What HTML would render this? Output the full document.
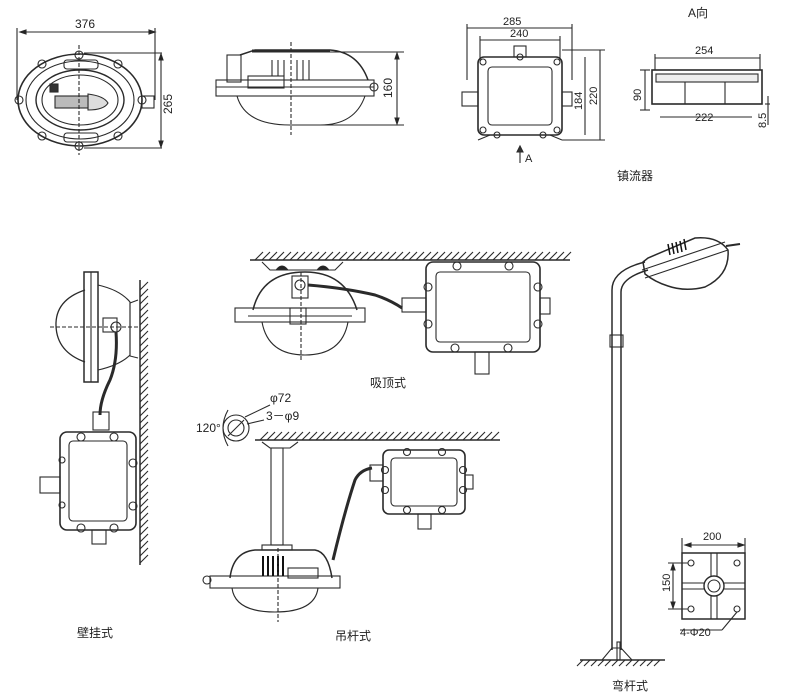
<!DOCTYPE html>
<html><head><meta charset="utf-8"><style>
html,body{margin:0;padding:0;background:#fff;}
svg{display:block;}
text{font-family:"Liberation Sans","Noto Sans CJK SC",sans-serif;fill:#222;font-size:11px;}
.c{font-size:12px;}
</style></head><body>
<svg width="800" height="698" viewBox="0 0 800 698" xmlns="http://www.w3.org/2000/svg" fill="none" stroke="#2a2a2a" stroke-width="1.1">
<!-- Top view 1: oval fixture -->
<g>
<line x1="20" y1="32" x2="155" y2="32"/><text x="75" y="28" stroke="none" class="c">376</text>
<path d="M20 32 l6 -2 v4 Z M155 32 l-6 -2 v4 Z" fill="#222"/>
<line x1="17" y1="28" x2="17" y2="100"/><line x1="155" y1="28" x2="155" y2="100"/>
<ellipse cx="80" cy="100" rx="62" ry="46" stroke-width="1.6"/>
<ellipse cx="80" cy="100" rx="54" ry="39"/>
<ellipse cx="80" cy="100" rx="44" ry="30" stroke-width="1.4"/>
<ellipse cx="80" cy="100" rx="38" ry="25"/>
<circle cx="42" cy="64" r="4"/><circle cx="118" cy="64" r="4"/><circle cx="42" cy="136" r="4"/><circle cx="118" cy="136" r="4"/>
<circle cx="79" cy="55" r="4"/><circle cx="79" cy="146" r="4"/><circle cx="19" cy="100" r="4"/><circle cx="142" cy="100" r="4"/>
<rect x="64" y="60" width="34" height="9" rx="3"/><rect x="64" y="133" width="34" height="9" rx="3"/>
<path d="M88 94 Q104 96 108 103 Q104 110 88 110 Z" fill="#ddd"/>
<rect x="55" y="96" width="33" height="12" fill="#bbb"/>
<rect x="50" y="84" width="8" height="8" fill="#333"/>
<rect x="142" y="96" width="12" height="12"/>
<line x1="79" y1="45" x2="79" y2="155" stroke-dasharray="4 2"/>
<line x1="84" y1="53" x2="162" y2="53"/><line x1="84" y1="148" x2="162" y2="148"/>
<line x1="161" y1="56" x2="161" y2="146"/>
<path d="M161 54 l-2 6 h4 Z M161 147 l-2 -6 h4 Z" fill="#222"/>
<text stroke="none" class="c" transform="translate(172,114) rotate(-90)">265</text>
</g>
<!-- Top view 2: side -->
<g>
<rect x="227" y="55" width="14" height="27"/>
<path d="M240 55 L255 50 L330 50 Q358 52 368 80" stroke-width="1.5"/>
<line x1="252" y1="51" x2="330" y2="51" stroke-width="3"/>
<rect x="216" y="80" width="158" height="16"/>
<line x1="216" y1="87" x2="374" y2="87"/>
<path d="M237 96 Q245 125 290 125 L320 125 Q355 125 365 96"/>
<rect x="248" y="76" width="36" height="12"/>
<g><line x1="272" y1="60" x2="272" y2="76"/><line x1="278" y1="60" x2="278" y2="76"/><line x1="284" y1="60" x2="284" y2="76"/><line x1="297" y1="60" x2="297" y2="80"/><line x1="303" y1="60" x2="303" y2="80"/><line x1="309" y1="60" x2="309" y2="80"/></g>
<line x1="291" y1="42" x2="291" y2="135" stroke-dasharray="4 2"/>
<circle cx="374" cy="87" r="4"/>
<line x1="330" y1="52" x2="404" y2="52"/><line x1="320" y1="125" x2="404" y2="125"/>
<line x1="397" y1="55" x2="397" y2="123"/>
<path d="M397 53 l-2 6 h4 Z M397 124 l-2 -6 h4 Z" fill="#222"/>
<text stroke="none" class="c" transform="translate(392,98) rotate(-90)">160</text>
</g>
<!-- Ballast front -->
<g>
<line x1="467" y1="28" x2="572" y2="28"/><text x="503" y="25" stroke="none">285</text>
<line x1="480" y1="40" x2="560" y2="40"/><text x="510" y="37" stroke="none">240</text>
<line x1="467" y1="24" x2="467" y2="80"/><line x1="572" y1="24" x2="572" y2="80"/>
<line x1="480" y1="36" x2="480" y2="60"/><line x1="560" y1="36" x2="560" y2="60"/>
<rect x="478" y="57" width="84" height="78" rx="6" stroke-width="1.6"/>
<rect x="488" y="67" width="64" height="58" rx="4"/>
<circle cx="483" cy="62" r="3"/><circle cx="557" cy="62" r="3"/><circle cx="483" cy="130" r="3"/><circle cx="557" cy="130" r="3"/>
<circle cx="497" cy="135" r="3"/><circle cx="543" cy="135" r="3"/><circle cx="520" cy="57" r="3"/>
<rect x="462" y="92" width="16" height="14"/><rect x="562" y="92" width="10" height="14"/>
<rect x="514" y="46" width="12" height="11"/>
<path d="M478 140 L490 135 L550 135 L562 140"/>
<line x1="562" y1="50" x2="605" y2="50"/><line x1="562" y1="140" x2="605" y2="140"/>
<line x1="600" y1="50" x2="600" y2="140"/><line x1="585" y1="57" x2="585" y2="135"/>
<text stroke="none" transform="translate(597,105) rotate(-90)">220</text>
<text stroke="none" transform="translate(582,110) rotate(-90)">184</text>
<line x1="520" y1="163" x2="520" y2="148"/><path d="M517 152 L520 146 L523 152 Z" fill="#333"/>
<text x="525" y="162" stroke="none">A</text>
</g>
<!-- A view -->
<g>
<text x="688" y="17" class="c" stroke="none">A向</text>
<line x1="655" y1="58" x2="760" y2="58"/><text x="695" y="54" stroke="none">254</text>
<line x1="655" y1="54" x2="655" y2="70"/><line x1="760" y1="54" x2="760" y2="70"/>
<rect x="652" y="70" width="110" height="34" stroke-width="1.6"/>
<rect x="656" y="74" width="102" height="8" fill="#eee"/>
<line x1="685" y1="82" x2="685" y2="104"/><line x1="725" y1="82" x2="725" y2="104"/>
<line x1="660" y1="117" x2="752" y2="117"/><text x="695" y="121" stroke="none">222</text>
<line x1="640" y1="70" x2="650" y2="70"/><line x1="640" y1="110" x2="650" y2="110"/><line x1="645" y1="70" x2="645" y2="110"/>
<text stroke="none" transform="translate(641,101) rotate(-90)">90</text>
<line x1="765" y1="104" x2="770" y2="104"/><line x1="768" y1="96" x2="768" y2="125"/>
<text stroke="none" transform="translate(766,128) rotate(-90)">8.5</text>
<text x="617" y="180" class="c" stroke="none">镇流器</text>
</g>
<!-- Ceiling mount -->
<g>
<line x1="250" y1="260" x2="570" y2="260" stroke-width="1.5"/>
<path d="M255 260 l8 -8 M262 260 l8 -8 M269 260 l8 -8 M276 260 l8 -8 M283 260 l8 -8 M290 260 l8 -8 M297 260 l8 -8 M304 260 l8 -8 M311 260 l8 -8 M318 260 l8 -8 M325 260 l8 -8 M332 260 l8 -8 M339 260 l8 -8 M346 260 l8 -8 M353 260 l8 -8 M360 260 l8 -8 M367 260 l8 -8 M374 260 l8 -8 M381 260 l8 -8 M388 260 l8 -8 M395 260 l8 -8 M402 260 l8 -8 M409 260 l8 -8 M416 260 l8 -8 M423 260 l8 -8 M430 260 l8 -8 M437 260 l8 -8 M444 260 l8 -8 M451 260 l8 -8 M458 260 l8 -8 M465 260 l8 -8 M472 260 l8 -8 M479 260 l8 -8 M486 260 l8 -8 M493 260 l8 -8 M500 260 l8 -8 M507 260 l8 -8 M514 260 l8 -8 M521 260 l8 -8 M528 260 l8 -8 M535 260 l8 -8 M542 260 l8 -8 M549 260 l8 -8 M556 260 l8 -8 M563 260 l8 -8"/>
<path d="M262 262 L270 270 L335 270 L343 262"/>
<path d="M277 269 Q282 263 287 269 Z M318 269 Q323 263 328 269 Z" fill="#222"/>
<path d="M253 310 Q262 272 305 272 Q345 272 357 310" stroke-width="1.5"/>
<rect x="235" y="308" width="130" height="14"/>
<line x1="248" y1="316" x2="352" y2="316"/>
<path d="M262 322 Q268 355 305 355 Q342 355 348 322"/>
<rect x="292" y="276" width="16" height="22"/><circle cx="300" cy="285" r="5"/>
<rect x="290" y="308" width="16" height="16"/>
<line x1="301" y1="272" x2="301" y2="362" stroke-dasharray="4 2"/>
<path d="M308 285 Q345 288 375 295 Q390 300 402 308" stroke-width="3"/>
<rect x="402" y="298" width="24" height="14"/>
<rect x="426" y="262" width="114" height="90" rx="7" stroke-width="1.6"/>
<rect x="436" y="272" width="94" height="70" rx="4"/>
<g><circle cx="457" cy="266" r="4"/><circle cx="509" cy="266" r="4"/><circle cx="428" cy="287" r="4"/><circle cx="538" cy="287" r="4"/><circle cx="428" cy="324" r="4"/><circle cx="538" cy="324" r="4"/><circle cx="455" cy="348" r="4"/><circle cx="508" cy="348" r="4"/></g>
<rect x="540" y="298" width="10" height="16"/><rect x="475" y="352" width="14" height="22"/>
<text x="370" y="387" class="c" stroke="none">吸顶式</text>
</g>
<!-- Wall mount -->
<g>
<line x1="140" y1="280" x2="140" y2="565" stroke-width="1.5"/>
<path d="M140 290 l8 -8 M140 297 l8 -8 M140 304 l8 -8 M140 311 l8 -8 M140 318 l8 -8 M140 325 l8 -8 M140 332 l8 -8 M140 339 l8 -8 M140 346 l8 -8 M140 353 l8 -8 M140 360 l8 -8 M140 367 l8 -8 M140 374 l8 -8 M140 381 l8 -8 M140 388 l8 -8 M140 395 l8 -8 M140 402 l8 -8 M140 409 l8 -8 M140 416 l8 -8 M140 423 l8 -8 M140 430 l8 -8 M140 437 l8 -8 M140 444 l8 -8 M140 451 l8 -8 M140 458 l8 -8 M140 465 l8 -8 M140 472 l8 -8 M140 479 l8 -8 M140 486 l8 -8 M140 493 l8 -8 M140 500 l8 -8 M140 507 l8 -8 M140 514 l8 -8 M140 521 l8 -8 M140 528 l8 -8 M140 535 l8 -8 M140 542 l8 -8 M140 549 l8 -8 M140 556 l8 -8 M140 563 l8 -8"/>
<path d="M85 290 Q55 300 56 326 Q57 352 85 362" stroke-width="1.3"/>
<rect x="84" y="272" width="14" height="110" stroke-width="1.5"/>
<line x1="91" y1="272" x2="91" y2="382"/>
<path d="M98 285 Q120 290 130 302 L130 355 Q120 365 98 370"/>
<path d="M138 300 L130 303 L130 356 L138 358"/>
<rect x="103" y="318" width="14" height="14"/><circle cx="116" cy="327" r="5"/>
<line x1="50" y1="327" x2="140" y2="327" stroke-dasharray="4 2"/>
<path d="M116 332 Q118 360 110 380 Q100 400 100 415" stroke-width="3"/>
<rect x="93" y="412" width="16" height="18"/>
<rect x="60" y="432" width="76" height="98" rx="7" stroke-width="1.6"/>
<rect x="69" y="441" width="58" height="80" rx="4"/>
<g><circle cx="81" cy="437" r="4"/><circle cx="114" cy="437" r="4"/><circle cx="133" cy="463" r="4"/><circle cx="133" cy="506" r="4"/><circle cx="81" cy="528" r="4"/><circle cx="114" cy="528" r="4"/><circle cx="62" cy="460" r="3"/><circle cx="62" cy="505" r="3"/></g>
<rect x="40" y="477" width="20" height="16"/><rect x="92" y="530" width="14" height="14"/>
<text x="77" y="637" class="c" stroke="none">壁挂式</text>
</g>
<!-- Pendant mount -->
<g>
<circle cx="236" cy="428" r="13"/><circle cx="236" cy="428" r="8"/>
<line x1="228" y1="436" x2="244" y2="420"/>
<path d="M228 410 Q218 428 228 446"/>
<line x1="245" y1="417" x2="270" y2="405"/><text x="270" y="402" stroke="none" class="c">φ72</text>
<line x1="247" y1="424" x2="264" y2="420"/><text x="266" y="420" stroke="none" class="c">3－φ9</text>
<text x="196" y="432" stroke="none" class="c">120°</text>
<line x1="255" y1="440" x2="500" y2="440" stroke-width="1.5"/>
<path d="M260 440 l8 -8 M267 440 l8 -8 M274 440 l8 -8 M281 440 l8 -8 M288 440 l8 -8 M295 440 l8 -8 M302 440 l8 -8 M309 440 l8 -8 M316 440 l8 -8 M323 440 l8 -8 M330 440 l8 -8 M337 440 l8 -8 M344 440 l8 -8 M351 440 l8 -8 M358 440 l8 -8 M365 440 l8 -8 M372 440 l8 -8 M379 440 l8 -8 M386 440 l8 -8 M393 440 l8 -8 M400 440 l8 -8 M407 440 l8 -8 M414 440 l8 -8 M421 440 l8 -8 M428 440 l8 -8 M435 440 l8 -8 M442 440 l8 -8 M449 440 l8 -8 M456 440 l8 -8 M463 440 l8 -8 M470 440 l8 -8 M477 440 l8 -8 M484 440 l8 -8 M491 440 l8 -8"/>
<path d="M262 442 L270 448 L290 448 L298 442"/>
<rect x="271" y="448" width="12" height="97"/>
<rect x="262" y="545" width="30" height="5"/>
<path d="M230 578 Q233 552 255 550 L315 550 Q328 552 332 578" stroke-width="1.5"/>
<rect x="210" y="576" width="130" height="12"/>
<circle cx="207" cy="580" r="4"/>
<path d="M232 588 Q235 612 275 612 Q315 612 318 588"/>
<g stroke="#111" stroke-width="2"><line x1="263" y1="556" x2="263" y2="576"/><line x1="268" y1="556" x2="268" y2="576"/><line x1="273" y1="556" x2="273" y2="576"/><line x1="278" y1="556" x2="278" y2="576"/><line x1="283" y1="556" x2="283" y2="576"/></g>
<rect x="288" y="568" width="30" height="10"/>
<line x1="278" y1="548" x2="278" y2="622" stroke-dasharray="4 2"/>
<path d="M333 560 Q345 510 355 480 Q360 470 372 468" stroke-width="3"/>
<rect x="370" y="465" width="13" height="16"/>
<rect x="383" y="450" width="82" height="64" rx="6" stroke-width="1.6"/>
<rect x="391" y="458" width="66" height="48" rx="4"/>
<g><circle cx="407" cy="452" r="3.5"/><circle cx="442" cy="452" r="3.5"/><circle cx="385" cy="470" r="3.5"/><circle cx="463" cy="470" r="3.5"/><circle cx="385" cy="490" r="3.5"/><circle cx="463" cy="490" r="3.5"/><circle cx="407" cy="510" r="3.5"/><circle cx="442" cy="510" r="3.5"/></g>
<rect x="465" y="475" width="8" height="14"/><rect x="418" y="514" width="13" height="15"/>
<text x="335" y="640" class="c" stroke="none">吊杆式</text>
</g>
<!-- Bent pole -->
<g>
<path d="M612 650 L612 290 Q612 270 645 262" stroke-width="1.5"/>
<path d="M621 650 L621 292 Q621 278 648 270" stroke-width="1.5"/>
<rect x="610" y="335" width="13" height="12"/>
<path d="M643 262 L648 258 L695 238 Q718 236 728 250 Q730 275 705 287 Q685 292 668 286 Q655 282 645 274 Z" stroke-width="1.5"/>
<path d="M642 270 L725 242 M645 278 L728 250"/>
<g stroke="#111" stroke-width="1.5"><line x1="670" y1="255" x2="668" y2="244"/><line x1="674" y1="254" x2="672" y2="243"/><line x1="678" y1="253" x2="676" y2="242"/><line x1="682" y1="252" x2="680" y2="241"/><line x1="686" y1="250" x2="684" y2="239"/></g>
<line x1="726" y1="246" x2="740" y2="244" stroke-width="2"/>
<path d="M602 660 L612 648 L621 648 L632 660"/>
<rect x="617" y="642" width="3" height="18"/>
<line x1="580" y1="660" x2="665" y2="660" stroke-width="1.5"/>
<path d="M583 660 l-6 6 M590 660 l-6 6 M597 660 l-6 6 M604 660 l-6 6 M611 660 l-6 6 M618 660 l-6 6 M625 660 l-6 6 M632 660 l-6 6 M639 660 l-6 6 M646 660 l-6 6 M653 660 l-6 6 M660 660 l-6 6"/>
<text x="612" y="690" class="c" stroke="none">弯杆式</text>
<!-- base plate -->
<line x1="685" y1="545" x2="744" y2="545"/><text x="703" y="540" stroke="none">200</text>
<path d="M685 545 l6 -2 v4 Z M744 545 l-6 -2 v4 Z" fill="#222"/>
<line x1="682" y1="538" x2="682" y2="553"/><line x1="745" y1="538" x2="745" y2="553"/>
<rect x="682" y="553" width="63" height="66" stroke-width="1.5"/>
<path d="M711 553 V577 M717 553 V577 M711 595 V619 M717 595 V619 M682 583 H705 M682 589 H705 M723 583 H745 M723 589 H745"/>
<circle cx="714" cy="586" r="10" stroke-width="1.4"/><circle cx="714" cy="586" r="6"/>
<circle cx="691" cy="563" r="3"/><circle cx="737" cy="563" r="3"/><circle cx="691" cy="609" r="3"/><circle cx="737" cy="609" r="3"/>
<line x1="668" y1="563" x2="688" y2="563"/><line x1="668" y1="609" x2="688" y2="609"/><line x1="673" y1="565" x2="673" y2="607"/>
<path d="M673 564 l-2 6 h4 Z M673 608 l-2 -6 h4 Z" fill="#222"/>
<text stroke="none" transform="translate(670,592) rotate(-90)">150</text>
<line x1="737" y1="612" x2="722" y2="630"/><line x1="722" y1="630" x2="680" y2="630"/>
<text x="680" y="636" stroke="none">4-Φ20</text>
</g>
</svg>
</body></html>
